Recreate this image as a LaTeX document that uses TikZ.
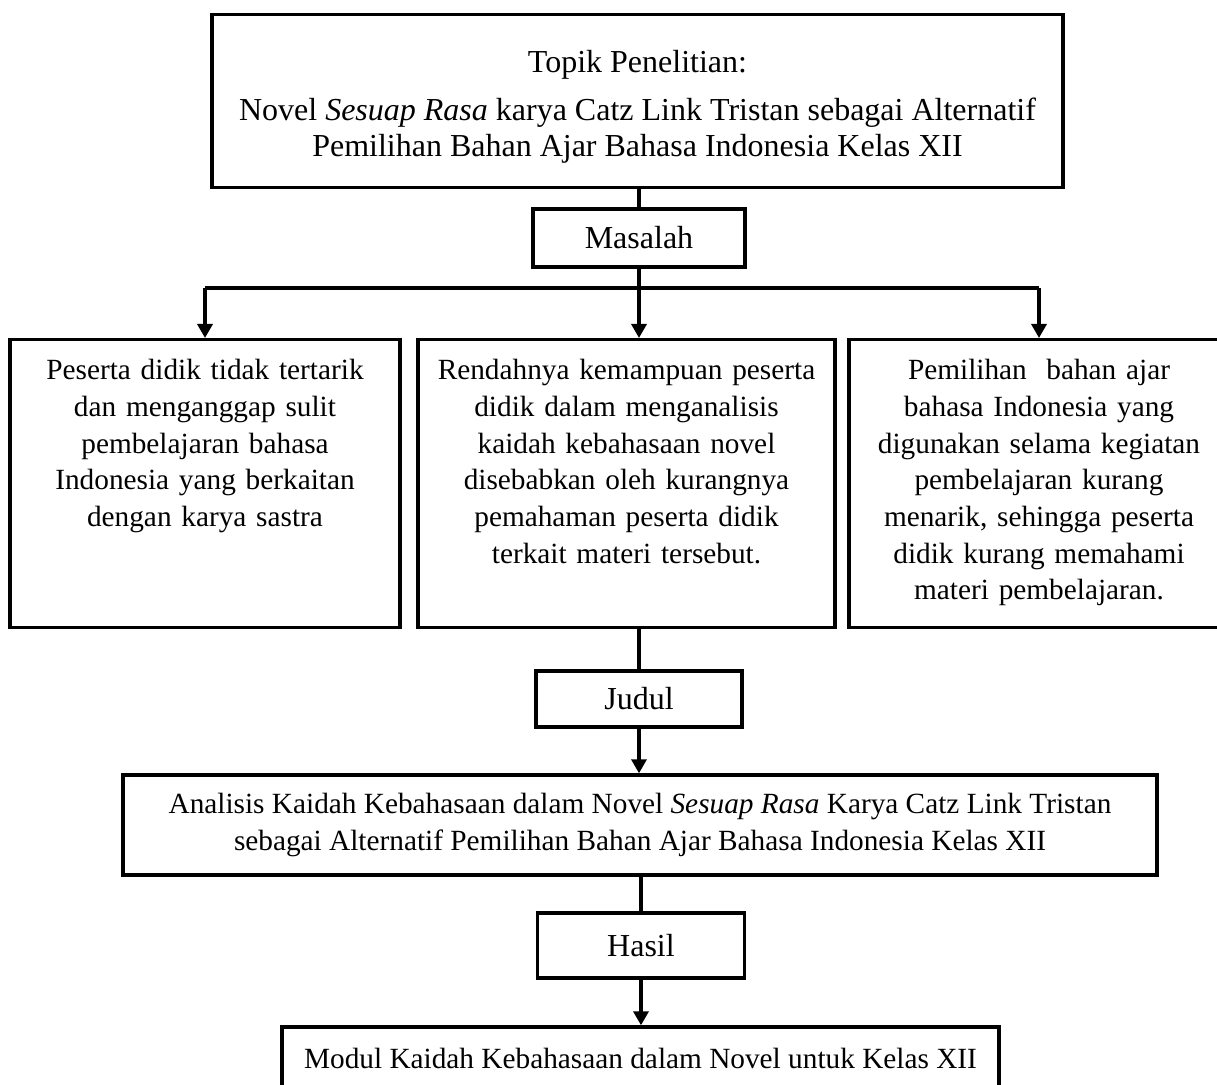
\documentclass[tikz,border=0pt]{standalone}
\usepackage{fontspec}
\setmainfont{Liberation Serif}
\usepackage{tikz}
\usetikzlibrary{arrows.meta}

\tikzset{
    box/.style={draw, line width=1.7pt, align=center, inner sep=0pt},
    bigtext/.style={font=\fontsize{16pt}{18.4pt}\selectfont},
    probbox/.style={box, anchor=north, text height=20pt, text depth=124pt},
    link/.style={line width=1.7pt},
    arr/.style={link, -{Triangle[length=7pt,width=7.5pt]}}
}

\begin{document}
\begin{tikzpicture}[x=0.5pt, y=-0.5pt, every node/.style={font=\fontsize{14.65pt}{18.35pt}\selectfont}]
        \useasboundingbox (0,0) rectangle (1217,1085);
        \draw (637.5,101) node (topik) [box, bigtext, minimum width=425.5pt, minimum height=86.5pt] {\rule{0pt}{17pt}Topik Penelitian:\\[5.6pt] Novel \textit{Sesuap Rasa} karya Catz Link Tristan sebagai Alternatif\\ Pemilihan Bahan Ajar Bahasa Indonesia Kelas XII};
        \draw (639,238) node (masalah) [box, bigtext, minimum width=106pt, minimum height=29pt] {Masalah};
        \draw (205,338) node (p1) [probbox, text width=187pt, minimum width=195pt] {Peserta didik tidak tertarik\\ dan menganggap sulit\\ pembelajaran bahasa\\ Indonesia yang berkaitan\\ dengan karya sastra};
        \draw (626.5,338) node (p2) [probbox, text width=200pt, minimum width=208.5pt] {Rendahnya kemampuan peserta\\ didik dalam menganalisis\\ kaidah kebahasaan novel\\ disebabkan oleh kurangnya\\ pemahaman peserta didik\\ terkait materi tersebut.};
        \draw (1039,338) node (p3) [probbox, text width=182pt, minimum width=190pt] {Pemilihan\ \ bahan ajar\\ bahasa Indonesia yang\\ digunakan selama kegiatan\\ pembelajaran kurang\\ menarik, sehingga peserta\\ didik kurang memahami\\ materi pembelajaran.};
        \draw (639,699) node (judul) [box, bigtext, minimum width=103pt, minimum height=28pt] {Judul};
        \draw (640,825) node (analisis) [box, minimum width=517pt, minimum height=50pt] {Analisis Kaidah Kebahasaan dalam Novel \textit{Sesuap Rasa} Karya Catz Link Tristan\\ sebagai Alternatif Pemilihan Bahan Ajar Bahasa Indonesia Kelas XII};
        \draw (641,945.5) node (hasil) [box, bigtext, minimum width=103.5pt, minimum height=32.5pt] {Hasil};
        \draw (640.5,1058) node (modul) [box, minimum width=358.5pt, minimum height=31pt] {Modul Kaidah Kebahasaan dalam Novel untuk Kelas XII};
        \coordinate (fork) at (639,288);
        \draw[link] (masalah.north |- topik.south) -- (masalah.north);
        \draw[link] (masalah.south) -- (fork);
        \draw[link] (fork -| p1.north) -- (fork -| p3.north);
        \draw[arr] (fork -| p1.north) -- (p1.north);
        \draw[arr] (fork) -- (fork |- p2.north);
        \draw[arr] (fork -| p3.north) -- (p3.north);
        \draw[link] (judul.north |- p2.south) -- (judul.north);
        \draw[arr] (judul.south) -- (judul.south |- analisis.north);
        \draw[link] (hasil.north |- analisis.south) -- (hasil.north);
        \draw[arr] (hasil.south) -- (hasil.south |- modul.north);
\end{tikzpicture}
\end{document}
